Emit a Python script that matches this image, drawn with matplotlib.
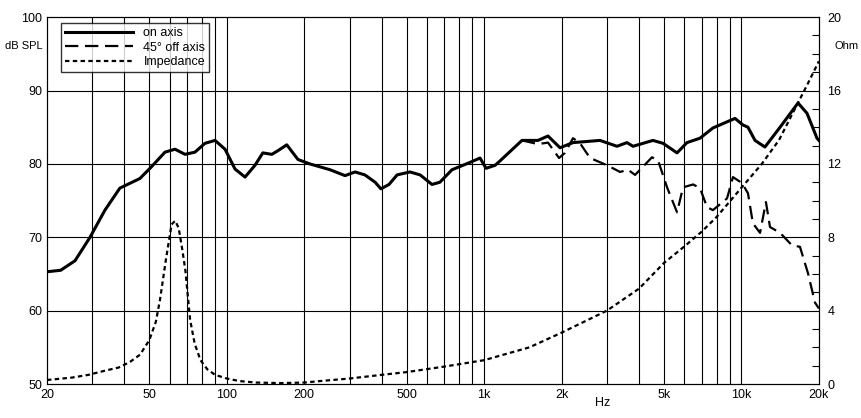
import matplotlib
matplotlib.use("Agg")
import matplotlib.pyplot as plt
from matplotlib.ticker import FixedLocator, NullFormatter, MultipleLocator

# curva en eje (Hz, dB SPL)
freq_on = [20, 22.6, 25.7, 29.4, 33.6, 38.4, 45.9, 50.3, 57.5, 62.9, 68.8, 75.2, 82.2, 90, 98.4,
           107.6, 117.7, 128.6, 138, 149.6, 158, 171, 189, 210, 252, 288, 315, 344, 377, 397,
           427, 459, 515, 564, 627, 673, 750, 881, 964, 1017, 1102, 1152, 1403, 1619, 1771,
           1972, 2215, 2820, 3283, 3590, 3790, 4530, 4960, 5620, 6140, 6900, 7750, 9440,
           10140, 10600, 11290, 12340, 14130, 16590, 17980, 19660, 20000]
spl_on = [65.3, 65.5, 66.8, 70, 73.7, 76.7, 78, 79.4, 81.6, 82, 81.3, 81.6, 82.8, 83.2, 82,
          79.3, 78.2, 79.8, 81.5, 81.3, 81.8, 82.6, 80.6, 80, 79.2, 78.4, 78.9, 78.5, 77.5, 76.6,
          77.2, 78.5, 78.9, 78.5, 77.2, 77.5, 79.2, 80.2, 80.8, 79.4, 79.8, 80.4, 83.2, 83.2, 83.8,
          82.2, 82.9, 83.2, 82.4, 82.9, 82.4, 83.2, 82.8, 81.5, 82.9, 83.5, 84.9, 86.2,
          85.3, 85, 83.2, 82.3, 85, 88.3, 86.9, 83.5, 83.2]

# curva 45 grados fuera de eje
freq_off = [1403, 1619, 1771, 1955, 2061, 2215, 2360, 2580, 3010, 3375, 3625, 3860, 4140, 4490,
            4740, 5140, 5620, 5930, 6490, 6900, 7350, 7750, 8790, 9270, 10040, 10600, 11080,
            11810, 12450, 12910, 14130, 15720, 16880, 18140, 19310, 20000]
spl_off = [83.2, 82.7, 82.9, 80.8, 81.5, 83.5, 82.8, 80.8, 79.8, 78.9, 79.2, 78.5, 79.6, 80.9,
           80.5, 76.8, 73.4, 76.8, 77.2, 76.7, 74.1, 73.7, 75.3, 78.2, 77.4, 76, 71.9,
           70.6, 74.8, 71.4, 70.6, 68.9, 68.7, 65.1, 61.1, 60.3]

# impedancia (Ohm)
freq_imp = [20, 25, 29, 33, 38, 42, 46, 50, 53, 55, 58, 61, 63, 65, 67, 69, 72, 75, 79, 84, 90,
            100, 112, 130, 162, 200, 230, 300, 400, 500, 700, 1000, 1500, 2000, 3000, 4000,
            5000, 6000, 7000, 8000, 10000, 12000, 14000, 16000, 18000, 20000]
ohm_imp = [0.22, 0.35, 0.5, 0.7, 0.9, 1.2, 1.6, 2.4, 3.4, 4.6, 6.8, 8.7, 8.9, 8.5, 7.4, 6.2,
           3.5, 2.2, 1.3, 0.8, 0.5, 0.3, 0.16, 0.08, 0.05, 0.08, 0.16, 0.3, 0.5, 0.65, 0.95,
           1.3, 2.0, 2.8, 4.0, 5.2, 6.6, 7.5, 8.3, 9.1, 10.7, 12.0, 13.3, 14.9, 16.3, 17.6]

xticks = [20, 50, 100, 200, 500, 1000, 2000, 5000, 10000, 20000]
xlabels = ["20", "50", "100", "200", "500", "1k", "2k", "5k", "10k", "20k"]

plt.rcParams['font.family'] = ['Liberation Sans', 'DejaVu Sans']
fig = plt.figure(figsize=(8.62, 4.18), dpi=100)
ax = fig.add_axes([0.0545, 0.0813, 0.8955, 0.8777])
ax.set_xscale('log')
ax.set_xlim(20, 20000)
ax.set_ylim(50, 100)

grid = [f * d for d in (10, 100, 1000) for f in range(1, 10)][2:] + [10000]
grid = [g for g in grid if 20 < g < 20000]
for g in grid:
    ax.axvline(g, color='black', lw=0.8, zorder=1)
for h in (60, 70, 80, 90):
    ax.axhline(h, color='black', lw=0.8, zorder=1)

l1, = ax.plot(freq_on, spl_on, color='black', lw=2.2, zorder=4, label='on axis')
l2, = ax.plot(freq_off, spl_off, color='black', lw=1.6, ls=(0, (6, 3)), zorder=3,
              label='45° off axis')

ax.xaxis.set_major_locator(FixedLocator(xticks))
ax.set_xticklabels(xlabels)
ax.xaxis.set_minor_formatter(NullFormatter())
ax.tick_params(axis='x', which='both', length=0, labelsize=9)
ax.set_yticks([50, 60, 70, 80, 90, 100])
ax.tick_params(axis='y', length=0, labelsize=9)
ax.text(2900, 48.2, "Hz", ha='center', va='top', fontsize=9)
ax.text(-0.005, 0.92, "dB SPL", transform=ax.transAxes, ha='right', va='center', fontsize=8)

ax2 = ax.twinx()
ax2.set_ylim(0, 20)
ax2.set_yticks([0, 4, 8, 12, 16, 20])
ax2.yaxis.set_minor_locator(MultipleLocator(1))
ax2.tick_params(axis='y', which='major', length=0, labelsize=9, pad=6)
ax2.tick_params(axis='y', which='minor', direction='in', length=5, width=0.8)
l3, = ax2.plot(freq_imp, ohm_imp, color='black', lw=1.6, ls=(0, (2, 1.5)), label='Impedance')
ax2.text(1.02, 0.92, "Ohm", transform=ax.transAxes, ha='left', va='center', fontsize=8)

leg = ax.legend(handles=[l1, l2, l3], loc='upper left', bbox_to_anchor=(0.01, 1.0),
                fontsize=9, frameon=True, fancybox=False, edgecolor='black',
                handlelength=5.5, borderpad=0.3, labelspacing=0.2)
leg.get_frame().set_linewidth(1.0)
leg.set_zorder(10)

fig.savefig("out.png", dpi=100)
